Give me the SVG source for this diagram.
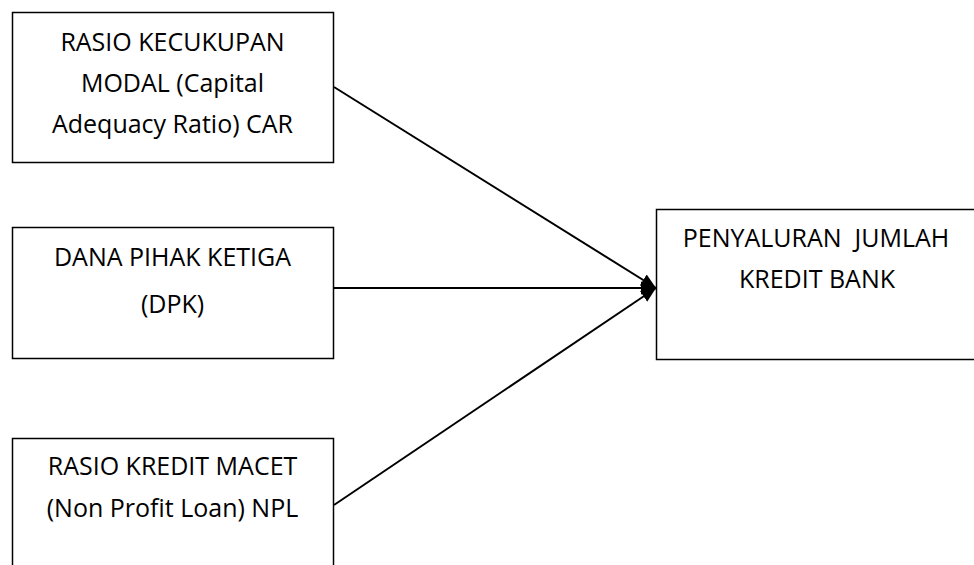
<svg xmlns="http://www.w3.org/2000/svg" width="974" height="565" viewBox="0 0 974 565">
<style>
.box{fill:#fff;stroke:#000;stroke-width:1.5}
.t{font-family:"Open Sans","Liberation Sans",sans-serif;font-size:25px;fill:#000;text-anchor:middle;white-space:pre}
.c{stroke:#000;stroke-width:2;fill:none}
</style>
<defs>
<marker id="ah" markerUnits="userSpaceOnUse" markerWidth="16" markerHeight="14" refX="15" refY="7" orient="auto">
<path d="M0,0.5 L15,7 L0,13.5 z" fill="#000"/>
</marker>
</defs>
<rect width="974" height="565" fill="#fff"/>
<g id="car">
<rect class="box" x="12.5" y="12.5" width="321" height="150"/>
<text class="t" x="172.5" y="51">RASIO KECUKUPAN</text>
<text class="t" x="172.5" y="92">MODAL (Capital</text>
<text class="t" x="172.5" y="133">Adequacy Ratio) CAR</text>
</g>
<g id="dpk">
<rect class="box" x="12.5" y="227.5" width="321" height="131"/>
<text class="t" x="172.5" y="266">DANA PIHAK KETIGA</text>
<text class="t" x="172.5" y="313">(DPK)</text>
</g>
<g id="npl">
<rect class="box" x="12.5" y="438.5" width="321" height="140"/>
<text class="t" x="172.5" y="475">RASIO KREDIT MACET</text>
<text class="t" x="172.5" y="517">(Non Profit Loan) NPL</text>
</g>
<g id="kredit">
<rect class="box" x="656.5" y="209.5" width="330" height="150"/>
<text class="t" x="816" y="247" xml:space="preserve">PENYALURAN  JUMLAH</text>
<text class="t" x="817" y="288">KREDIT BANK</text>
</g>
<g id="connectors">
<line class="c" x1="334" y1="87" x2="656" y2="288" marker-end="url(#ah)"/>
<line class="c" x1="334" y1="288" x2="656" y2="288" marker-end="url(#ah)"/>
<line class="c" x1="334" y1="505" x2="656" y2="288" marker-end="url(#ah)"/>
</g>
</svg>
